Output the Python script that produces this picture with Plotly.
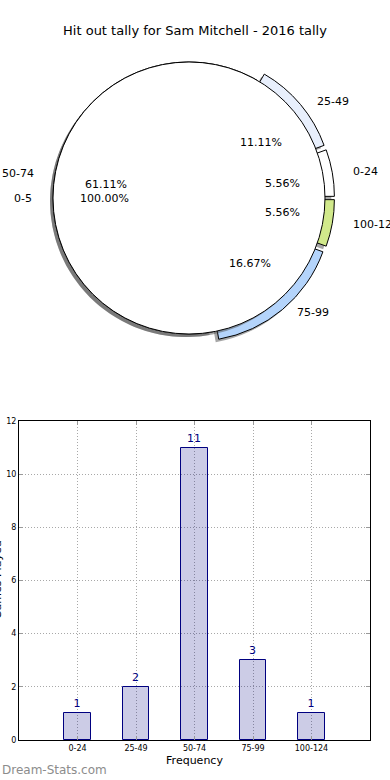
import math
import plotly.graph_objects as go

# ---------------- data ----------------
chart_title = "Hit out tally for Sam Mitchell - 2016 tally"
categories = ["0-24", "25-49", "50-74", "75-99", "100-124"]
counts = [1, 2, 11, 3, 1]
slice_colors = ["#ffffff", "#e8effc", "#ffffff", "#b4d4fb", "#d1e98b"]
slice_pull = [0.07, 0.07, 0.0, 0.07, 0.07]
overall_labels = ["0-5"]
overall_values = [1]
y_ticks = [0, 2, 4, 6, 8, 10, 12]
x_title = "Frequency"
y_title = "Games Played"
watermark = "Dream-Stats.com"

# ---------------- layout constants ----------------
W, H = 390, 780
FONT = "DejaVu Sans"
PCX, PCY = 189, 198        # pie centre (px)
R = 136                    # pie radius (px)
TRX, TRY = 141, 128        # text layout radii (px)
SHADOW = 3                 # shadow offset (px)
SHADOW_COLOR = "rgba(77,77,77,0.5)"


def dom(cx, cy, half):
    return dict(x=[(cx - half) / W, (cx + half) / W],
                y=[1 - (cy + half) / H, 1 - (cy - half) / H])


fig = go.Figure()

total = sum(counts)
# plotly's counter-clockwise pies end the first slice at `rotation`;
# shift so the first slice starts at 3 o'clock (matplotlib startangle=0)
cat_rotation = 90 - 360 * counts[0] / total

half_cat = R * (1 + max(slice_pull))
common = dict(sort=False, direction="counterclockwise",
              textinfo="none", hoverinfo="label+percent", showlegend=False)

# category pie shadow + pie
fig.add_trace(go.Pie(labels=categories, values=counts, pull=slice_pull,
                     rotation=cat_rotation,
                     marker=dict(colors=[SHADOW_COLOR] * len(categories),
                                 line=dict(width=0)),
                     domain=dom(PCX - SHADOW, PCY + SHADOW, half_cat), **common))
fig.add_trace(go.Pie(labels=categories, values=counts, pull=slice_pull,
                     rotation=cat_rotation,
                     marker=dict(colors=slice_colors,
                                 line=dict(color="black", width=1)),
                     domain=dom(PCX, PCY, half_cat), **common))
# overall pie shadow + pie
fig.add_trace(go.Pie(labels=overall_labels, values=overall_values, rotation=90,
                     marker=dict(colors=[SHADOW_COLOR], line=dict(width=0)),
                     domain=dom(PCX - SHADOW, PCY + SHADOW, R), **common))
fig.add_trace(go.Pie(labels=overall_labels, values=overall_values, rotation=90,
                     marker=dict(colors=["#ffffff"],
                                 line=dict(color="black", width=1)),
                     domain=dom(PCX, PCY, R), **common))

annotations = []


def pie_texts(labels, values, pulls):
    tot = sum(values)
    start = 0.0
    for lab, v, p in zip(labels, values, pulls):
        frac = v / tot
        mid = math.radians((start + frac / 2) * 360)
        start += frac
        c, s = math.cos(mid), math.sin(mid)
        lx = PCX + (1.1 + p) * TRX * c
        ly = PCY - (1.1 + p) * TRY * s
        annotations.append(dict(x=lx / W, y=1 - ly / H, xref="paper", yref="paper",
                                text=lab, showarrow=False,
                                xanchor="left" if c > 1e-9 else "right",
                                yanchor="middle",
                                font=dict(family=FONT, size=11, color="black")))
        px = PCX + (0.6 + p) * TRX * c
        py = PCY - (0.6 + p) * TRY * s
        annotations.append(dict(x=px / W, y=1 - py / H, xref="paper", yref="paper",
                                text=f"{100 * frac:.2f}%", showarrow=False,
                                xanchor="center", yanchor="middle",
                                font=dict(family=FONT, size=11, color="black")))


pie_texts(categories, counts, slice_pull)
pie_texts(overall_labels, overall_values, [0.0])

# ---------------- bar chart ----------------
fig.add_trace(go.Bar(x=categories, y=counts, width=0.45,
                     marker=dict(color="rgba(0,0,128,0.2)",
                                 line=dict(color="navy", width=1)),
                     text=[str(c) for c in counts], textposition="outside",
                     textfont=dict(family=FONT, size=11, color="navy"),
                     cliponaxis=False, showlegend=False,
                     xaxis="x", yaxis="y"))

axis_common = dict(showgrid=True, griddash="1px,2px", gridcolor="#a8a8a8", gridwidth=1,
                   showline=True, linecolor="black", linewidth=1, mirror="ticks",
                   ticks="inside", ticklen=4, tickcolor="#999999",
                   tickfont=dict(family=FONT, size=8, color="black"),
                   zeroline=False, automargin=False)

annotations.append(dict(x=-3 / W, y=1 - 580 / H, xref="paper", yref="paper",
                        text=y_title, textangle=-90, showarrow=False,
                        xanchor="center", yanchor="middle",
                        font=dict(family=FONT, size=11, color="black")))
annotations.append(dict(x=0, y=10 / H, xref="paper", yref="paper",
                        text=watermark, showarrow=False,
                        xanchor="left", yanchor="middle",
                        font=dict(family=FONT, size=12, color="#8c8c8c")))

fig.update_layout(
    width=W, height=H,
    template="none",
    margin=dict(l=0, r=0, t=0, b=0),
    paper_bgcolor="white", plot_bgcolor="white",
    font=dict(family=FONT, color="black"),
    title=dict(text=chart_title, x=0.5, xanchor="center",
               y=1 - 30 / H, yanchor="middle",
               font=dict(family=FONT, size=13, color="black")),
    xaxis=dict(domain=[19 / W, 370 / W], anchor="y", type="category",
               range=[-1, len(categories)],
               title=dict(text=x_title, standoff=4,
                          font=dict(family=FONT, size=11, color="black")),
               **axis_common),
    yaxis=dict(domain=[40 / H, 359 / H], anchor="x", range=[0, 12],
               tickvals=y_ticks, **axis_common),
    annotations=annotations,
    bargap=0,
)

fig.write_html("out.html", config={"displayModeBar": False},
               post_script="document.body.style.margin='0';")
